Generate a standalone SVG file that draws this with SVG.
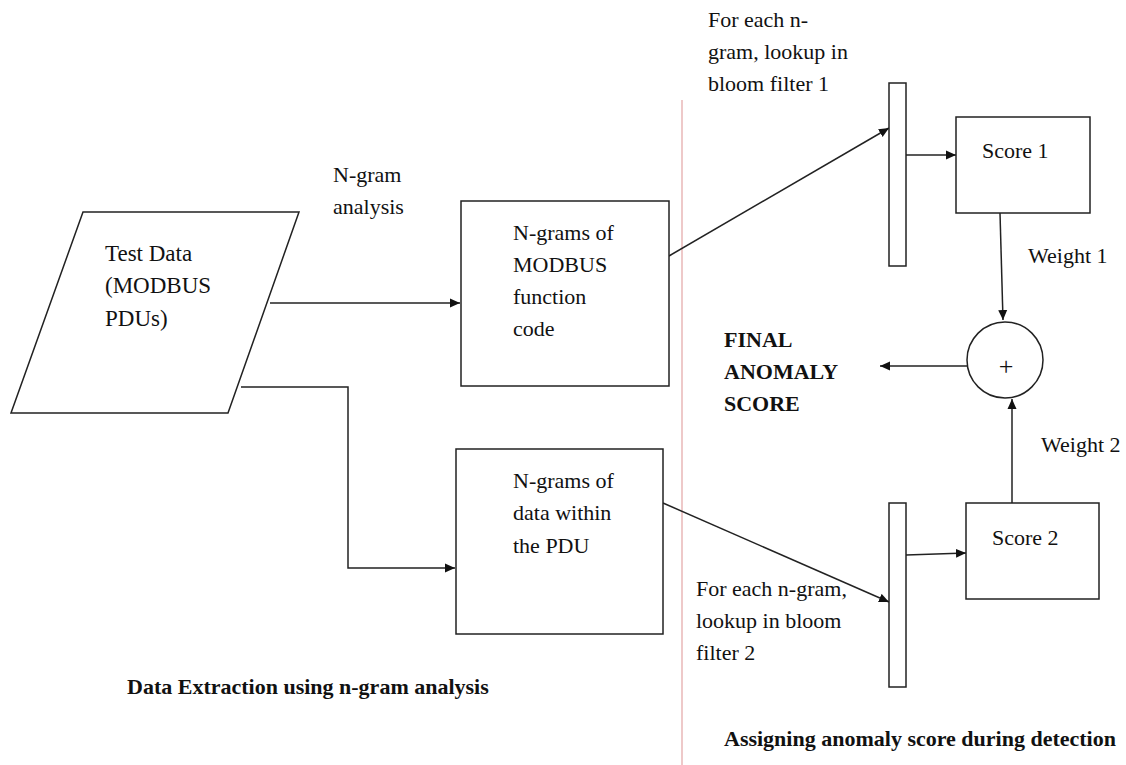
<svg xmlns="http://www.w3.org/2000/svg" width="1126" height="765" viewBox="0 0 1126 765">
  <style>
    .shape { fill: #ffffff; stroke: #222; stroke-width: 1.5; }
    .conn { fill: none; stroke: #222; stroke-width: 1.5; }
    .t { font-family: "Liberation Serif", "Times New Roman", serif; font-size: 22px; fill: #111; }
    .b { font-family: "Liberation Serif", "Times New Roman", serif; font-size: 22px; font-weight: bold; fill: #111; }
    .big { font-size: 23px; }
    .plus { font-size: 26px; }
  </style>
  <defs>
    <marker id="arrow" viewBox="0 0 10 10" refX="10" refY="5" markerWidth="10" markerHeight="10" markerUnits="userSpaceOnUse" orient="auto">
      <path d="M0,0.5 L10,5 L0,9.5 Z" fill="#111"/>
    </marker>
  </defs>
  <rect width="1126" height="765" fill="#ffffff"/>

  <!-- divider between the two stages -->
  <line x1="682" y1="100" x2="682" y2="765" stroke="#e3a5a5" stroke-width="1.2"/>

  <g id="connectors">
    <line class="conn" x1="270" y1="303" x2="460" y2="303" marker-end="url(#arrow)"/>
    <polyline class="conn" points="241,387 348,387 348,568 455,568" marker-end="url(#arrow)"/>
    <line class="conn" x1="669" y1="256" x2="889" y2="128" marker-end="url(#arrow)"/>
    <line class="conn" x1="663" y1="503" x2="889" y2="602" marker-end="url(#arrow)"/>
    <line class="conn" x1="906" y1="155" x2="956" y2="155" marker-end="url(#arrow)"/>
    <line class="conn" x1="906" y1="555" x2="966" y2="553" marker-end="url(#arrow)"/>
    <line class="conn" x1="1000" y1="213" x2="1003" y2="320" marker-end="url(#arrow)"/>
    <line class="conn" x1="1012" y1="503" x2="1012" y2="399" marker-end="url(#arrow)"/>
    <line class="conn" x1="967" y1="366" x2="880" y2="366" marker-end="url(#arrow)"/>
  </g>

  <g id="test-data">
    <polygon class="shape" points="83,212 299,212 228,413 11,413"/>
    <text class="t big" x="105" y="261">Test Data</text>
    <text class="t big" x="105" y="293">(MODBUS</text>
    <text class="t big" x="105" y="326">PDUs)</text>
  </g>

  <g id="ngram-label">
    <text class="t" x="333" y="182">N-gram</text>
    <text class="t" x="333" y="214">analysis</text>
  </g>

  <g id="ngrams-function-code">
    <rect class="shape" x="461" y="201" width="208" height="185"/>
    <text class="t" x="513" y="240">N-grams of</text>
    <text class="t" x="513" y="272">MODBUS</text>
    <text class="t" x="513" y="304">function</text>
    <text class="t" x="513" y="336">code</text>
  </g>

  <g id="ngrams-pdu-data">
    <rect class="shape" x="456" y="449" width="207" height="185"/>
    <text class="t" x="513" y="488">N-grams of</text>
    <text class="t" x="513" y="520">data within</text>
    <text class="t" x="513" y="553">the PDU</text>
  </g>

  <g id="bloom-filter-1">
    <rect class="shape" x="889" y="83" width="17" height="183"/>
    <text class="t" x="708" y="27">For each n-</text>
    <text class="t" x="708" y="59">gram, lookup in</text>
    <text class="t" x="708" y="91">bloom filter 1</text>
  </g>

  <g id="bloom-filter-2">
    <rect class="shape" x="889" y="503" width="17" height="184"/>
    <text class="t" x="696" y="596">For each n-gram,</text>
    <text class="t" x="696" y="628">lookup in bloom</text>
    <text class="t" x="696" y="660">filter 2</text>
  </g>

  <g id="score-1">
    <rect class="shape" x="956" y="117" width="134" height="96"/>
    <text class="t" x="982" y="158">Score 1</text>
  </g>

  <g id="score-2">
    <rect class="shape" x="966" y="503" width="133" height="96"/>
    <text class="t" x="992" y="545">Score 2</text>
  </g>

  <g id="weights">
    <text class="t" x="1028" y="263">Weight 1</text>
    <text class="t" x="1041" y="452">Weight 2</text>
  </g>

  <g id="sum">
    <circle class="shape" cx="1005" cy="360" r="38"/>
    <text class="t plus" x="1006" y="375" text-anchor="middle">+</text>
  </g>

  <g id="final-score">
    <text class="b" x="724" y="347">FINAL</text>
    <text class="b" x="724" y="379">ANOMALY</text>
    <text class="b" x="724" y="411">SCORE</text>
  </g>

  <g id="captions">
    <text class="b" x="127" y="694">Data Extraction using n-gram analysis</text>
    <text class="b" x="724" y="746">Assigning anomaly score during detection</text>
  </g>
</svg>
